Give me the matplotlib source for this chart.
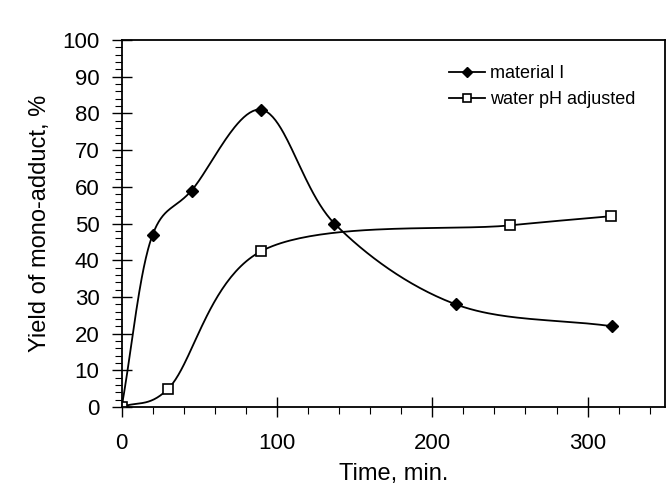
import numpy as np
import matplotlib
matplotlib.use("Agg")
import matplotlib.pyplot as plt
from matplotlib.ticker import MultipleLocator

plt.rcParams['font.family'] = ['Liberation Sans', 'DejaVu Sans']

# values
time_mat = [0, 20, 45, 90, 137, 215, 316]
yield_mat = [0, 47, 59, 81, 50, 28, 22]
time_water = [0, 30, 90, 250, 315]
yield_water = [0, 5, 42.5, 49.5, 52]


def smooth(xs, ys, alpha=0.2, n=50, sx=1.555, sy=3.67):
    # Catmull-Rom through the points (done in screen-like units)
    p = np.column_stack([np.asarray(xs) * sx, np.asarray(ys) * sy]).astype(float)
    p = np.vstack([2 * p[0] - p[1], p, 2 * p[-1] - p[-2]])
    out = []
    for i in range(1, len(p) - 2):
        P0, P1, P2, P3 = p[i - 1], p[i], p[i + 1], p[i + 2]
        t0 = 0.0
        t1 = t0 + np.linalg.norm(P1 - P0) ** alpha
        t2 = t1 + np.linalg.norm(P2 - P1) ** alpha
        t3 = t2 + np.linalg.norm(P3 - P2) ** alpha
        t = np.linspace(t1, t2, n)[:, None]
        A1 = (t1 - t) / (t1 - t0) * P0 + (t - t0) / (t1 - t0) * P1
        A2 = (t2 - t) / (t2 - t1) * P1 + (t - t1) / (t2 - t1) * P2
        A3 = (t3 - t) / (t3 - t2) * P2 + (t - t2) / (t3 - t2) * P3
        B1 = (t2 - t) / (t2 - t0) * A1 + (t - t0) / (t2 - t0) * A2
        B2 = (t3 - t) / (t3 - t1) * A2 + (t - t1) / (t3 - t1) * A3
        C = (t2 - t) / (t2 - t1) * B1 + (t - t1) / (t2 - t1) * B2
        out.append(C)
    out = np.vstack(out)
    return out[:, 0] / sx, out[:, 1] / sy


fig = plt.figure(figsize=(6.72, 4.94), dpi=100)
ax = fig.add_axes([0.181, 0.176, 0.809, 0.743])

mx, my = smooth(time_mat, yield_mat)
ax.plot(mx, my, color='black', lw=1.3)
ax.plot(time_mat, yield_mat, 'D', color='black', ms=6, ls='none')
ax.plot([], [], color='black', lw=1.3, marker='D', ms=5.5, label='material I')

wx, wy = smooth(time_water, yield_water)
ax.plot(wx, wy, color='black', lw=1.3)
ax.plot(time_water, yield_water, 's', mfc='white', mec='black', mew=1.2, ms=7.5, ls='none')
ax.plot([], [], color='black', lw=1.3, marker='s', mfc='white', mec='black',
        mew=1.2, ms=6, label='water pH adjusted')

ax.set_xlim(0, 350)
ax.set_ylim(0, 100)
ax.xaxis.set_major_locator(MultipleLocator(100))
ax.xaxis.set_minor_locator(MultipleLocator(20))
ax.yaxis.set_major_locator(MultipleLocator(10))
ax.yaxis.set_minor_locator(MultipleLocator(2))
ax.tick_params(which='major', direction='inout', length=14, width=1, labelsize=16,
               top=False, right=False)
ax.tick_params(axis='x', which='major', pad=12)
ax.tick_params(axis='y', which='major', pad=9)
ax.tick_params(which='minor', direction='out', length=5, width=0.8,
               top=False, right=False)
for s in ax.spines.values():
    s.set_linewidth(1.3)

ax.set_xlabel('Time, min.', fontsize=17, labelpad=6)
ax.set_ylabel('Yield of mono-adduct, %', fontsize=17, labelpad=8)

ax.legend(loc='upper right', bbox_to_anchor=(0.975, 0.975), frameon=False,
          fontsize=13, handlelength=2.0, handletextpad=0.3, labelspacing=0.5)

fig.savefig('out.png', dpi=100)
